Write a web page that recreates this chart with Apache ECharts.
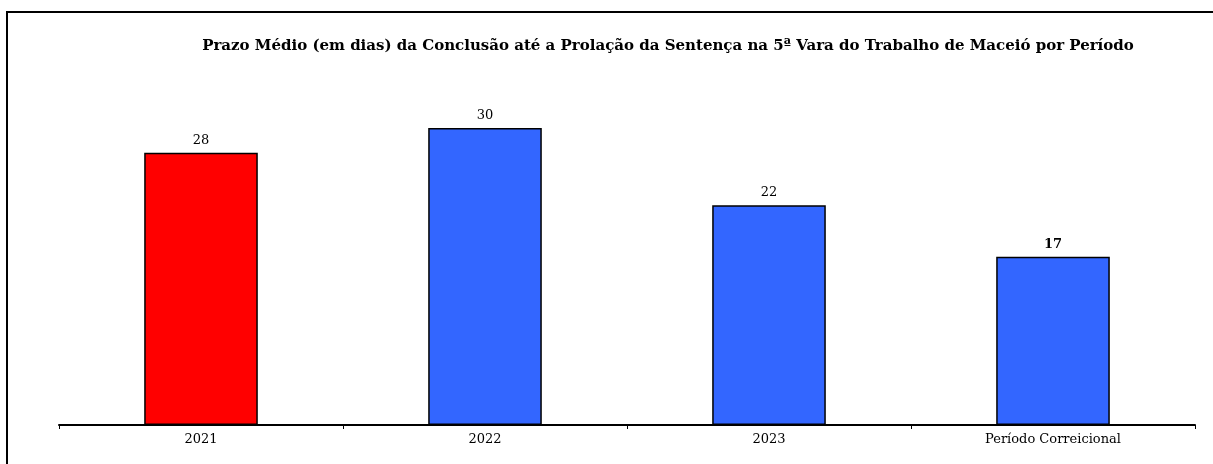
<!DOCTYPE html>
<html><head><meta charset="utf-8">
<script src="https://cdn.jsdelivr.net/npm/echarts@6/dist/echarts.min.js"></script>
<style>html,body{margin:0;padding:0;background:#fff}#c{width:1213px;height:464px}</style>
</head><body><div id="c"></div>
<script>
const titleText = 'Prazo Médio (em dias) da Conclusão até a Prolação da Sentença na 5ª Vara do Trabalho de Maceió por Período';
const categories = ['2021', '2022', '2023', 'Período Correicional'];
const values = [27.5, 30, 22.2, 17];
const barColors = ['#FF0000', '#3366FF', '#3366FF', '#3366FF'];
const boldLabel = [false, false, false, true];

const chart = echarts.init(document.getElementById('c'));
chart.setOption({
  animation: false,
  backgroundColor: '#fff',
  title: {
    text: titleText, left: 663, top: 34, textAlign: 'center',
    textStyle: { fontFamily: 'DejaVu Serif', fontWeight: 'bold', fontSize: 15, color: '#000' }
  },
  graphic: [{
    type: 'polyline', shape: { points: [[7, 470], [7, 12], [1220, 12]] },
    style: { stroke: '#000', lineWidth: 2, fill: null }
  }],
  grid: { left: 59, right: 18, top: 108.2, bottom: 39 },
  xAxis: {
    type: 'category', data: categories,
    axisLine: { lineStyle: { color: '#000', width: 2 } },
    axisTick: { show: true, length: 4, lineStyle: { color: '#000', width: 1 } },
    axisLabel: { fontFamily: 'DejaVu Serif', fontSize: 13, color: '#000', margin: 8 }
  },
  yAxis: { type: 'value', min: 0, max: 32, show: false, splitLine: { show: false } },
  series: [{
    type: 'bar', barWidth: '40%',
    data: values.map((v, i) => ({
      value: v,
      itemStyle: { color: barColors[i], borderColor: '#000', borderWidth: 1.5 },
      label: { fontWeight: boldLabel[i] ? 'bold' : 'normal' }
    })),
    label: {
      show: true, position: 'top', distance: 6,
      fontFamily: 'DejaVu Serif', fontSize: 13, color: '#000',
      formatter: p => String(Math.round(p.value))
    }
  }]
});
</script></body></html>
